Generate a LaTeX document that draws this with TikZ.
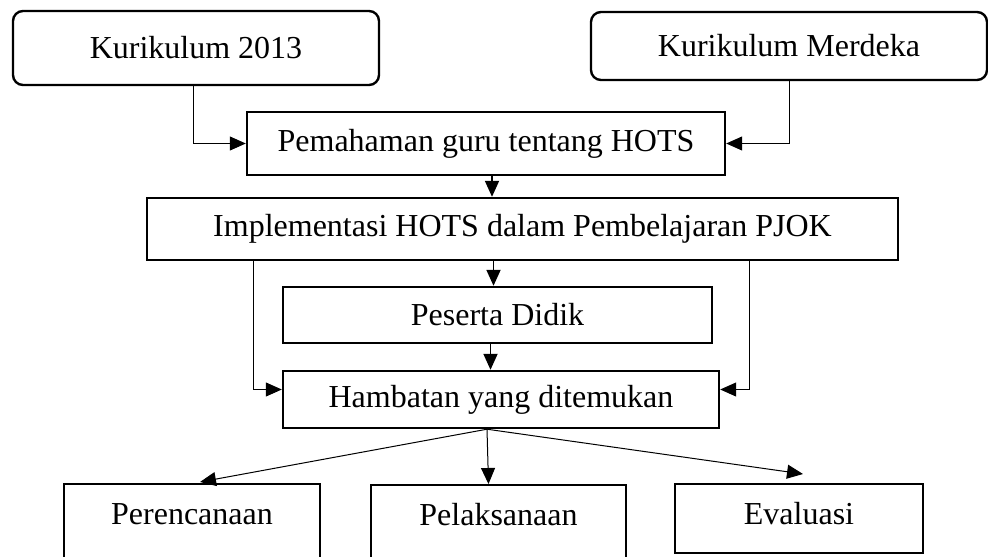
\documentclass[tikz,border=0pt]{standalone}
\usepackage{fontspec}
\setmainfont{Liberation Serif}
\usepackage{tikz}
\usetikzlibrary{arrows.meta,positioning}

\begin{document}
\begin{tikzpicture}[
  font=\fontsize{16pt}{19pt}\selectfont,
  box/.style={draw, align=center, inner sep=0pt, line width=1.2pt},
  kur/.style={box, rounded corners=5pt},
  hasil/.style={box, anchor=north, inner ysep=4pt, text height=16pt},
  arr/.style={-{Triangle[length=8pt,width=7pt]}, line width=0.5pt},
  arrb/.style={-{Triangle[length=8pt,width=7pt]}, line width=0.9pt}
]
\useasboundingbox (0,0) rectangle (494pt,-278pt);
\clip (0,0) rectangle (494pt,-278pt);

% ---------- Row 1: Kurikulum ----------
\node[kur, minimum width=183pt, minimum height=37pt] (k13) at (98pt,-24pt) {Kurikulum 2013};
\node[kur, minimum width=198pt, minimum height=34pt] (km) at (394.5pt,-23pt) {Kurikulum Merdeka};

% ---------- Middle column ----------
\node[box, minimum width=239pt, minimum height=31.5pt] (pem) at (243pt,-71.75pt) {Pemahaman guru tentang HOTS};
\node[box, minimum width=375.5pt, minimum height=31pt] (impl) at (261.25pt,-114.5pt) {Implementasi HOTS dalam Pembelajaran PJOK};
\node[box, minimum width=214.5pt, minimum height=28pt] (pes) at (248.75pt,-157.5pt) {Peserta Didik};
\node[box, minimum width=218pt, minimum height=28.5pt] (hamb) at (250.5pt,-199.75pt) {Hambatan yang ditemukan};

% ---------- Row 3: Hambatan ----------
\node[hasil, minimum width=128pt, text depth=24.5pt] (peren) at (96pt,-241.5pt) {Perencanaan};
\node[hasil, minimum width=127.5pt, text depth=24.5pt] (pelak) at (249.25pt,-242pt) {Pelaksanaan};
\node[hasil, minimum width=124pt, text depth=10.5pt] (eval) at (399.5pt,-241.5pt) {Evaluasi};

% ---------- Arrows ----------
\draw[arr] ([xshift=-1.5pt]k13.south) |- (pem.west);
\draw[arr] (km.south) |- (pem.east);
\draw[arrb] ([xshift=3pt]pem.south) -- ([xshift=3pt]pem.south |- impl.north);
\draw[arrb] ([xshift=-2pt]impl.south -| pes.north) -- ([xshift=-2pt]pes.north);
\draw[arrb] ([xshift=-3.5pt]pes.south) -- ([xshift=-3.5pt]pes.south |- hamb.north);

\draw[arr] ([xshift=54pt]impl.south west) |- ([yshift=5pt]hamb.west);
\draw[arr] ([xshift=-75pt]impl.south east) |- ([yshift=5pt]hamb.east);

\coordinate (fork) at ([xshift=-7pt]hamb.south);
\draw[arr] (fork) -- ([xshift=4pt,yshift=0.5pt]peren.north);
\draw[arr] (fork) -- ([xshift=-5pt]pelak.north);
\draw[arr] (fork) -- ([xshift=2pt,yshift=4.5pt]eval.north);

\end{tikzpicture}
\end{document}
